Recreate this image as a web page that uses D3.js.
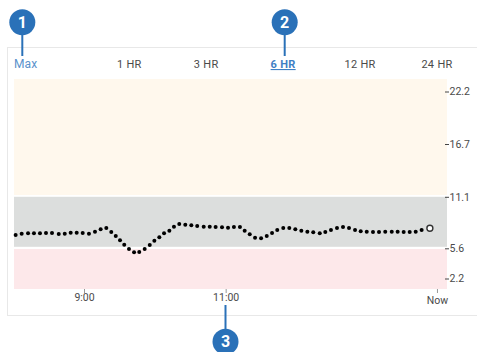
<!DOCTYPE html>
<html>
<head>
<meta charset="utf-8">
<script src="https://cdn.jsdelivr.net/npm/d3@7"></script>
<style>
  html, body { margin: 0; padding: 0; background: #fff; overflow: hidden; }
  text { font-family: Roboto, sans-serif; }
  .axis .domain { display: none; }
</style>
</head>
<body>
<svg id="chart" width="477" height="352"></svg>
<script>
// tabs along the top of the card
const tabLabels = ["Max", "1 HR", "3 HR", "6 HR", "12 HR", "24 HR"];
const activeTab = "6 HR";

// y axis ticks, mmol/L
const glucoseTicks = [22.2, 16.7, 11.1, 5.6, 2.2];

// x axis ticks, minutes since midnight
const timeTicks = [540, 660, 839];
const timeTickLabels = ["9:00", "11:00", "Now"];

// target ranges, mmol/L
const rangeNames = ["high", "target", "low"];
const rangeTops = [23.5, 11.1, 5.52];
const rangeBottoms = [11.29, 5.76, 1.1];

// readings
const readingMinutes = [
    482.1, 487.2, 492.6, 497.6, 502.7, 507.8, 512.9, 518.6, 523.7, 528.7,
    533.8, 538.9, 544.2, 549.3, 554.1, 558.9, 563.1, 566.9, 570.5, 574.1,
    578.1, 582.4, 586.8, 591.4, 595.7, 599.6, 603.8, 607.8, 612.3, 616.2,
    620.7, 625.8, 630.9, 635.9, 641.4, 646.5, 651.5, 656.9, 662, 667,
    672.1, 676.1, 680.4, 684.9, 690, 694.8, 699.3, 703.7, 708.8, 713.9,
    719, 724.1, 729.2, 734.2, 739.7, 744.4, 749.2, 754.3, 759.4, 764.5,
    769.6, 774.4, 779.5, 784.8, 789.9, 795.2, 800.7, 805.7, 810.8, 815.9,
    821, 826, 833
];
const readingGlucose = [
    7.02, 7.16, 7.2, 7.2, 7.2, 7.23, 7.23, 7.13, 7.16, 7.27,
    7.27, 7.23, 7.16, 7.37, 7.63, 7.77, 7.34, 6.91, 6.45, 5.98,
    5.52, 5.15, 5.19, 5.52, 5.95, 6.4, 6.78, 7.2, 7.48, 7.91,
    8.2, 8.12, 8.06, 7.98, 7.91, 7.91, 7.88, 7.84, 7.8, 7.88,
    7.88, 7.48, 7.1, 6.73, 6.67, 6.91, 7.23, 7.56, 7.77, 7.77,
    7.63, 7.48, 7.37, 7.31, 7.2, 7.34, 7.56, 7.77, 7.88, 7.77,
    7.56, 7.42, 7.37, 7.34, 7.34, 7.37, 7.37, 7.37, 7.34, 7.34,
    7.37, 7.56, 7.74
];

// numbered callouts
const calloutLabels = ["1", "2", "3"];

const svg = d3.select("#chart");
const blue = "#2a71b8";
const rangeColor = d3.scaleOrdinal().domain(rangeNames).range(["#fff8ed", "#dcdedd", "#fde8ea"]);

const x = d3.scaleLinear().domain([480.7, 847.5]).range([14, 447]);

// the axis isn't quite linear in the original (it's converted from mg/dL), so pin the ticks
const y = d3.scaleLinear()
    .domain([23.5, 22.2, 16.7, 11.1, 5.6, 2.2, 1.1])
    .range([79, 91.5, 144, 196.8, 248.3, 278.5, 289]);

// card
svg.append("rect")
    .attr("x", 7.5).attr("y", 47.5)
    .attr("width", 490).attr("height", 268)
    .attr("fill", "#fff")
    .attr("stroke", "#e8e8e8");

// tabs
const tabX = d3.scalePoint().domain(tabLabels.slice(1)).range([129.3, 437]);
svg.append("g").selectAll("text")
    .data(tabLabels)
    .enter().append("text")
    .attr("x", d => d === "Max" ? 14 : tabX(d))
    .attr("y", 68)
    .attr("text-anchor", d => d === "Max" ? "start" : "middle")
    .attr("font-size", d => d === "Max" ? 12 : 11)
    .attr("font-weight", d => d === activeTab ? 700 : 400)
    .attr("letter-spacing", d => d === "Max" ? 0.1 : 0.3)
    .attr("text-decoration", d => d === activeTab ? "underline" : null)
    .attr("fill", d => d === "Max" ? "#5a92cc" : d === activeTab ? "#3f80c4" : "#4a4a4a")
    .text(d => d);

// ranges
svg.append("g").selectAll("rect")
    .data(rangeNames)
    .enter().append("rect")
    .attr("x", x.range()[0])
    .attr("width", x.range()[1] - x.range()[0])
    .attr("y", (d, i) => y(rangeTops[i]))
    .attr("height", (d, i) => y(rangeBottoms[i]) - y(rangeTops[i]))
    .attr("fill", d => rangeColor(d));

// y axis
const yAxis = svg.append("g")
    .attr("class", "axis")
    .attr("transform", "translate(445,0)")
    .call(d3.axisRight(y).tickValues(glucoseTicks).tickSize(4).tickPadding(0.5).tickFormat(d3.format(".1f")));
yAxis.selectAll("line").attr("stroke", "#444");
yAxis.selectAll("text").attr("font-size", 10.5).attr("fill", "#4a4a4a").attr("font-family", "Roboto, sans-serif");

// x axis
const xAxis = svg.append("g")
    .attr("class", "axis")
    .attr("transform", "translate(0,289)")
    .call(d3.axisBottom(x).tickValues(timeTicks).tickSize(4).tickPadding(0)
        .tickFormat((d, i) => timeTickLabels[i]));
xAxis.selectAll("line").attr("stroke", "#999");
xAxis.selectAll("text")
    .attr("font-size", 10.5)
    .attr("fill", "#4a4a4a")
    .attr("font-family", "Roboto, sans-serif")
    .attr("dy", d => d === 839 ? "1.0em" : "0.75em");

// readings, the newest one is drawn hollow
const lastIndex = readingMinutes.length - 1;
svg.append("g").selectAll("circle")
    .data(readingMinutes)
    .enter().append("circle")
    .attr("cx", d => x(d))
    .attr("cy", (d, i) => y(readingGlucose[i]))
    .attr("r", (d, i) => i === lastIndex ? 3 : 2)
    .attr("fill", (d, i) => i === lastIndex ? "#fff" : "#000")
    .attr("stroke", (d, i) => i === lastIndex ? "#333" : "none")
    .attr("stroke-width", 1.4);

// callouts
const calloutX = [22.3, 284.7, 225.5];
const calloutY = [22.3, 22.3, 341.7];
const calloutEnd = [56, 56, 305];
const callouts = svg.append("g").selectAll("g")
    .data(calloutLabels)
    .enter().append("g");
callouts.append("line")
    .attr("x1", (d, i) => calloutX[i]).attr("x2", (d, i) => calloutX[i])
    .attr("y1", (d, i) => calloutY[i]).attr("y2", (d, i) => calloutEnd[i])
    .attr("stroke", blue).attr("stroke-width", 2);
callouts.append("circle")
    .attr("cx", (d, i) => calloutX[i]).attr("cy", (d, i) => calloutY[i])
    .attr("r", 13)
    .attr("fill", blue);
callouts.append("text")
    .attr("x", (d, i) => calloutX[i]).attr("y", (d, i) => calloutY[i])
    .attr("dy", "0.36em")
    .attr("text-anchor", "middle")
    .attr("font-size", 16)
    .attr("font-weight", 700)
    .attr("fill", "#fff")
    .text(d => d);
</script>
</body>
</html>
